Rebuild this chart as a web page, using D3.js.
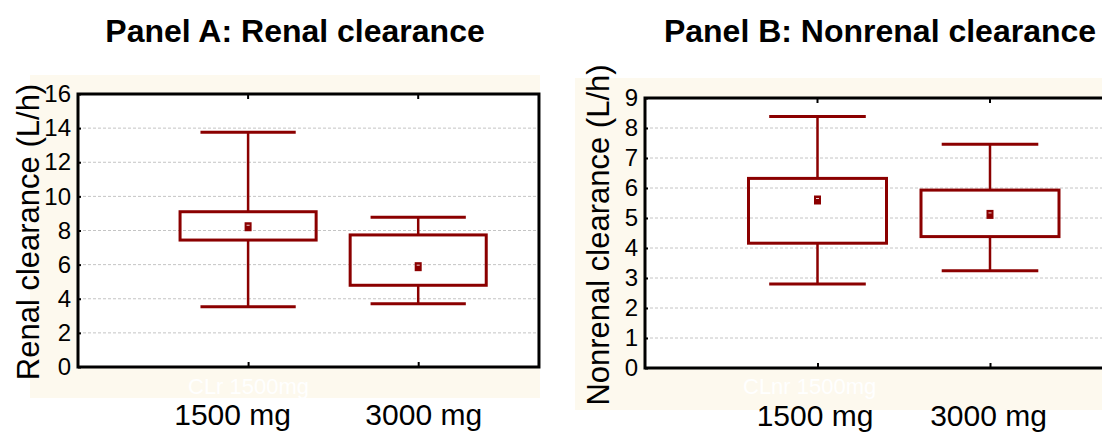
<!DOCTYPE html>
<html>
<head>
<meta charset="utf-8">
<script src="https://cdn.jsdelivr.net/npm/d3@7"></script>
<style>
  body { margin: 0; background: #fff; }
  svg { display: block; font-family: Arial, "Liberation Sans", sans-serif; }
</style>
</head>
<body>
<div id="chart"></div>
<script>
// Data
const doses = ["1500 mg", "3000 mg"];
const dosePos = [1, 2];

const renalMin  = [3.53, 3.71];
const renalQ1   = [7.44, 4.79];
const renalMean = [8.22, 5.88];
const renalQ3   = [9.10, 7.74];
const renalMax  = [13.76, 8.77];
const renalTicks = [0, 2, 4, 6, 8, 10, 12, 14, 16];

const nonrenalMin  = [2.80, 3.24];
const nonrenalQ1   = [4.16, 4.38];
const nonrenalMean = [5.60, 5.12];
const nonrenalQ3   = [6.32, 5.93];
const nonrenalMax  = [8.38, 7.46];
const nonrenalTicks = [0, 1, 2, 3, 4, 5, 6, 7, 8, 9];

const titles = ["Panel A: Renal clearance", "Panel B: Nonrenal clearance"];
const yLabels = ["Renal clearance (L/h)", "Nonrenal clearance (L/h)"];
const hiddenLabels = ["CLr 1500mg", "CLnr 1500mg"];

const width = 1102;
const height = 433;
const red = "#8b0000";

const svg = d3.select("#chart")
  .append("svg")
  .attr("width", width)
  .attr("height", height);

// panel layouts
const panels = [
  {
    title: titles[0], yLabel: yLabels[0], hidden: hiddenLabels[0],
    min: renalMin, q1: renalQ1, mean: renalMean, q3: renalQ3, max: renalMax,
    ticks: renalTicks,
    left: 78, top: 94, bottom: 367, unit: 170.1,
    bg: [30, 75, 540, 398], titleX: 295, labelX: 28, labelY: 232, hiddenX: 188, hiddenY: 394,
    labelShift: [-16, 5]
  },
  {
    title: titles[1], yLabel: yLabels[1], hidden: hiddenLabels[1],
    min: nonrenalMin, q1: nonrenalQ1, mean: nonrenalMean, q3: nonrenalQ3, max: nonrenalMax,
    ticks: nonrenalTicks,
    left: 645, top: 98, bottom: 368, unit: 172.5,
    bg: [575, 78, 1110, 410], titleX: 880, labelX: 598, labelY: 235, hiddenX: 743, hiddenY: 394,
    labelShift: [-3, -2]
  }
];

panels.forEach(p => {
  const g = svg.append("g");

  // cream background band
  g.append("rect")
    .attr("x", p.bg[0]).attr("y", p.bg[1])
    .attr("width", p.bg[2] - p.bg[0]).attr("height", p.bg[3] - p.bg[1])
    .attr("fill", "#fdf9ee");

  // hidden (white) variable name
  g.append("text")
    .attr("x", p.hiddenX).attr("y", p.hiddenY)
    .attr("fill", "#ffffff")
    .attr("font-size", 22)
    .text(p.hidden);

  // scales
  const x = d3.scaleLinear()
    .domain([0, 2.71])
    .range([p.left, p.left + 2.71 * p.unit]);
  const y = d3.scaleLinear()
    .domain([0, d3.max(p.ticks)])
    .range([p.bottom, p.top]);

  const right = x(2.71);

  // plot area
  g.append("rect")
    .attr("x", p.left).attr("y", p.top)
    .attr("width", right - p.left).attr("height", p.bottom - p.top)
    .attr("fill", "#fff");

  // grid
  g.append("g")
    .selectAll("line")
    .data(p.ticks.filter(t => t > 0 && t < d3.max(p.ticks)))
    .join("line")
    .attr("x1", p.left).attr("x2", right)
    .attr("y1", d => y(d)).attr("y2", d => y(d))
    .attr("stroke", "#c4c4c4")
    .attr("stroke-width", 1)
    .attr("stroke-dasharray", "3,2");

  // y axis
  const yAxis = g.append("g")
    .attr("transform", `translate(${p.left},0)`)
    .call(d3.axisLeft(y).tickValues(p.ticks).tickSize(-3).tickPadding(7));
  yAxis.select(".domain").remove();
  yAxis.selectAll(".tick line").attr("stroke", "#000").attr("stroke-width", 2);
  yAxis.selectAll("text").attr("font-size", 24).attr("fill", "#000");

  // x axis (bottom)
  const xAxis = g.append("g")
    .attr("transform", `translate(0,${p.bottom})`)
    .call(d3.axisBottom(x).tickValues(dosePos).tickSize(-5).tickPadding(0)
      .tickFormat((d, i) => doses[i]));
  xAxis.select(".domain").remove();
  xAxis.selectAll(".tick line").attr("stroke", "#000").attr("stroke-width", 2);
  xAxis.selectAll("text")
    .attr("font-size", 30).attr("fill", "#000")
    .attr("y", 58).attr("dy", 0)
    .attr("dx", (d, i) => p.labelShift[i]);

  // top ticks
  g.append("g")
    .selectAll("line")
    .data(dosePos)
    .join("line")
    .attr("x1", d => x(d)).attr("x2", d => x(d))
    .attr("y1", p.top).attr("y2", p.top + 5)
    .attr("stroke", "#000").attr("stroke-width", 2);

  // frame
  g.append("rect")
    .attr("x", p.left).attr("y", p.top)
    .attr("width", right - p.left).attr("height", p.bottom - p.top)
    .attr("fill", "none")
    .attr("stroke", "#000")
    .attr("stroke-width", 3);

  // boxes
  const boxes = g.append("g")
    .selectAll("g")
    .data(dosePos.map((d, i) => ({
      pos: d, min: p.min[i], q1: p.q1[i], mean: p.mean[i], q3: p.q3[i], max: p.max[i]
    })))
    .join("g");

  boxes.append("line")
    .attr("x1", d => x(d.pos)).attr("x2", d => x(d.pos))
    .attr("y1", d => y(d.max)).attr("y2", d => y(d.q3))
    .attr("stroke", red).attr("stroke-width", 2.5);
  boxes.append("line")
    .attr("x1", d => x(d.pos)).attr("x2", d => x(d.pos))
    .attr("y1", d => y(d.q1)).attr("y2", d => y(d.min))
    .attr("stroke", red).attr("stroke-width", 2.5);
  boxes.append("line")
    .attr("x1", d => x(d.pos - 0.28)).attr("x2", d => x(d.pos + 0.28))
    .attr("y1", d => y(d.max)).attr("y2", d => y(d.max))
    .attr("stroke", red).attr("stroke-width", 3);
  boxes.append("line")
    .attr("x1", d => x(d.pos - 0.28)).attr("x2", d => x(d.pos + 0.28))
    .attr("y1", d => y(d.min)).attr("y2", d => y(d.min))
    .attr("stroke", red).attr("stroke-width", 3);
  boxes.append("rect")
    .attr("x", d => x(d.pos - 0.4))
    .attr("y", d => y(d.q3))
    .attr("width", d => x(d.pos + 0.4) - x(d.pos - 0.4))
    .attr("height", d => y(d.q1) - y(d.q3))
    .attr("fill", "none")
    .attr("stroke", red).attr("stroke-width", 3);
  // mean marker
  boxes.append("rect")
    .attr("x", d => x(d.pos) - 3.5)
    .attr("y", d => y(d.mean) - 4.5)
    .attr("width", 7).attr("height", 9)
    .attr("fill", red);
  boxes.append("rect")
    .attr("x", d => x(d.pos) - 1.5)
    .attr("y", d => y(d.mean) - 2)
    .attr("width", 3).attr("height", 1)
    .attr("fill", "#f0d0d0");

  // title
  svg.append("text")
    .attr("x", p.titleX).attr("y", 42)
    .attr("text-anchor", "middle")
    .attr("font-size", 32)
    .attr("font-weight", "bold")
    .text(p.title);

  // y label
  svg.append("text")
    .attr("transform", `translate(${p.labelX + 11},${p.labelY}) rotate(-90)`)
    .attr("text-anchor", "middle")
    .attr("font-size", 31)
    .text(p.yLabel);
});
</script>
</body>
</html>
